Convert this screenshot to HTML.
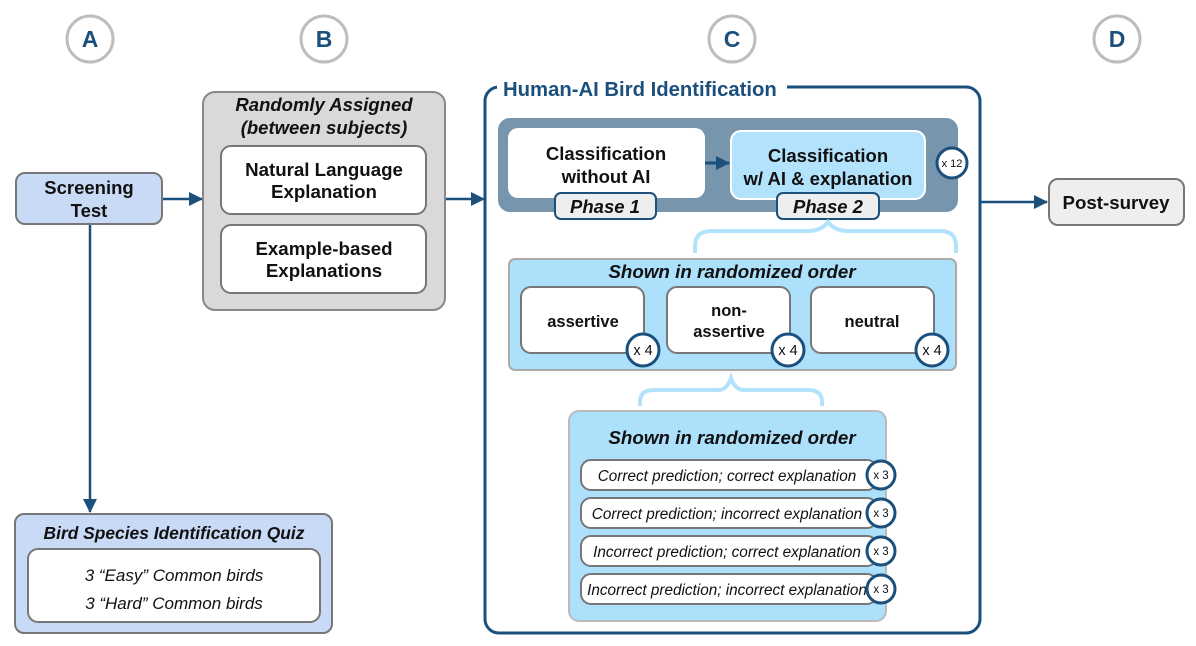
<!DOCTYPE html>
<html><head><meta charset="utf-8"><style>
html,body{margin:0;padding:0;background:#fff;}
svg{display:block;font-family:"Liberation Sans",sans-serif;}
</style></head><body>
<svg width="1196" height="646" viewBox="0 0 1196 646" xmlns="http://www.w3.org/2000/svg">
<defs>
<marker id="ah" markerWidth="14" markerHeight="14" refX="13" refY="7" orient="auto" markerUnits="userSpaceOnUse">
<path d="M0,0 L14,7 L0,14 Z" fill="#1b4f7c"/></marker>
</defs>
<g fill="#fff" stroke="#bdbdbd" stroke-width="3">
<circle cx="90" cy="39" r="23"/><circle cx="324" cy="39" r="23"/><circle cx="732" cy="39" r="23"/><circle cx="1117" cy="39" r="23"/>
</g>
<g fill="#1b4f7c" font-weight="bold" font-size="23" text-anchor="middle">
<text x="90" y="47">A</text><text x="324" y="47">B</text><text x="732" y="47">C</text><text x="1117" y="47">D</text>
</g>
<g stroke="#1b4f7c" stroke-width="2.5" fill="none">
<line x1="162" y1="199" x2="202" y2="199" marker-end="url(#ah)"/>
<line x1="446" y1="199" x2="484" y2="199" marker-end="url(#ah)"/>
<line x1="980" y1="202" x2="1047" y2="202" marker-end="url(#ah)"/>
<line x1="90" y1="224" x2="90" y2="512" marker-end="url(#ah)"/>
</g>
<!-- A -->
<rect x="16" y="173" width="146" height="51" rx="9" fill="#c9daf7" stroke="#777" stroke-width="2"/>
<g font-weight="bold" font-size="18.5" text-anchor="middle" fill="#111">
<text x="89" y="194">Screening</text><text x="89" y="217">Test</text></g>
<rect x="15" y="514" width="317" height="119" rx="9" fill="#c9daf7" stroke="#777" stroke-width="2"/>
<text x="174" y="539" font-weight="bold" font-style="italic" font-size="17.4" text-anchor="middle" fill="#111">Bird Species Identification Quiz</text>
<rect x="28" y="549" width="292" height="73" rx="10" fill="#fff" stroke="#777" stroke-width="2"/>
<g font-style="italic" font-size="17" text-anchor="middle" fill="#111">
<text x="174" y="581">3 “Easy” Common birds</text><text x="174" y="609">3 “Hard” Common birds</text></g>
<!-- B -->
<rect x="203" y="92" width="242" height="218" rx="12" fill="#d9d9d9" stroke="#888" stroke-width="2"/>
<g font-weight="bold" font-style="italic" font-size="18.5" text-anchor="middle" fill="#111">
<text x="324" y="111">Randomly Assigned</text><text x="324" y="134">(between subjects)</text></g>
<rect x="221" y="146" width="205" height="68" rx="10" fill="#fff" stroke="#777" stroke-width="2"/>
<rect x="221" y="225" width="205" height="68" rx="10" fill="#fff" stroke="#777" stroke-width="2"/>
<g font-weight="bold" font-size="18.7" text-anchor="middle" fill="#111">
<text x="324" y="176">Natural Language</text><text x="324" y="198">Explanation</text>
<text x="324" y="255">Example-based</text><text x="324" y="277">Explanations</text></g>
<!-- C -->
<rect x="485" y="87" width="495" height="546" rx="14" fill="#fff" stroke="#1b4f7c" stroke-width="3"/>
<rect x="497" y="78" width="290" height="20" fill="#fff"/>
<text x="503" y="96" font-weight="bold" font-size="20.3" fill="#1b4f7c">Human-AI Bird Identification</text>
<rect x="498" y="118" width="460" height="94" rx="12" fill="#7796ae"/>
<rect x="508" y="128" width="197" height="70" rx="10" fill="#fff"/>
<line x1="705" y1="163" x2="729" y2="163" stroke="#1b4f7c" stroke-width="3" marker-end="url(#ah)"/>
<rect x="731" y="131" width="194" height="68" rx="10" fill="#b3e3fc" stroke="#fff" stroke-width="2"/>
<g font-weight="bold" font-size="18.5" text-anchor="middle" fill="#111">
<text x="606" y="160">Classification</text><text x="606" y="183">without AI</text>
<text x="828" y="162">Classification</text><text x="828" y="185">w/ AI &amp; explanation</text></g>
<circle cx="952" cy="163" r="15" fill="#fff" stroke="#1b4f7c" stroke-width="3"/>
<text x="952" y="167" font-size="11" text-anchor="middle" fill="#111">x 12</text>
<rect x="555" y="193" width="101" height="26" rx="6" fill="#eee" stroke="#1b4f7c" stroke-width="2"/>
<rect x="777" y="193" width="102" height="26" rx="6" fill="#eee" stroke="#1b4f7c" stroke-width="2"/>
<g font-weight="bold" font-style="italic" font-size="18.5" text-anchor="middle" fill="#111">
<text x="605" y="213">Phase 1</text><text x="828" y="213">Phase 2</text></g>
<path d="M695,253 V246 Q695,231 712,231 H808 Q821,231 828,222 Q835,231 848,231 H940 Q956,231 956,246 V253" fill="none" stroke="#b3e3fc" stroke-width="4"/>
<rect x="509" y="259" width="447" height="111" rx="6" fill="#ade0fb" stroke="#aaa" stroke-width="2"/>
<text x="732" y="278" font-weight="bold" font-style="italic" font-size="18.8" text-anchor="middle" fill="#111">Shown in randomized order</text>
<g fill="#fff" stroke="#777" stroke-width="2">
<rect x="521" y="287" width="123" height="66" rx="10"/><rect x="667" y="287" width="123" height="66" rx="10"/><rect x="811" y="287" width="123" height="66" rx="10"/></g>
<g font-weight="bold" font-size="16.5" text-anchor="middle" fill="#111">
<text x="583" y="327">assertive</text><text x="729" y="316">non-</text><text x="729" y="337">assertive</text><text x="872" y="327">neutral</text></g>
<g fill="#fff" stroke="#1b4f7c" stroke-width="3">
<circle cx="643" cy="350" r="16"/><circle cx="788" cy="350" r="16"/><circle cx="932" cy="350" r="16"/></g>
<g font-size="14.5" text-anchor="middle" fill="#111">
<text x="643" y="355">x 4</text><text x="788" y="355">x 4</text><text x="932" y="355">x 4</text></g>
<path d="M640,406 V402 Q640,390 654,390 H718 Q727,390 731,378 Q735,390 744,390 H808 Q822,390 822,402 V406" fill="none" stroke="#b3e3fc" stroke-width="4"/>
<rect x="569" y="411" width="317" height="210" rx="10" fill="#ade0fb" stroke="#bbb" stroke-width="2"/>
<text x="732" y="444" font-weight="bold" font-style="italic" font-size="18.8" text-anchor="middle" fill="#111">Shown in randomized order</text>
<g fill="#fff" stroke="#777" stroke-width="2">
<rect x="581" y="460" width="296" height="30" rx="10"/><rect x="581" y="498" width="296" height="30" rx="10"/>
<rect x="581" y="536" width="296" height="30" rx="10"/><rect x="581" y="574" width="296" height="30" rx="10"/></g>
<g font-style="italic" font-size="15.3" text-anchor="middle" fill="#111">
<text x="727" y="481">Correct prediction; correct explanation</text>
<text x="727" y="519">Correct prediction; incorrect explanation</text>
<text x="727" y="557">Incorrect prediction; correct explanation</text>
<text x="727" y="595">Incorrect prediction; incorrect explanation</text></g>
<g fill="#fff" stroke="#1b4f7c" stroke-width="3">
<circle cx="881" cy="475" r="14"/><circle cx="881" cy="513" r="14"/><circle cx="881" cy="551" r="14"/><circle cx="881" cy="589" r="14"/></g>
<g font-size="11.5" text-anchor="middle" fill="#111">
<text x="881" y="479">x 3</text><text x="881" y="517">x 3</text><text x="881" y="555">x 3</text><text x="881" y="593">x 3</text></g>
<!-- D -->
<rect x="1049" y="179" width="135" height="46" rx="9" fill="#eee" stroke="#777" stroke-width="2"/>
<text x="1116" y="209" font-weight="bold" font-size="18.7" text-anchor="middle" fill="#111">Post-survey</text>
</svg>
</body></html>
